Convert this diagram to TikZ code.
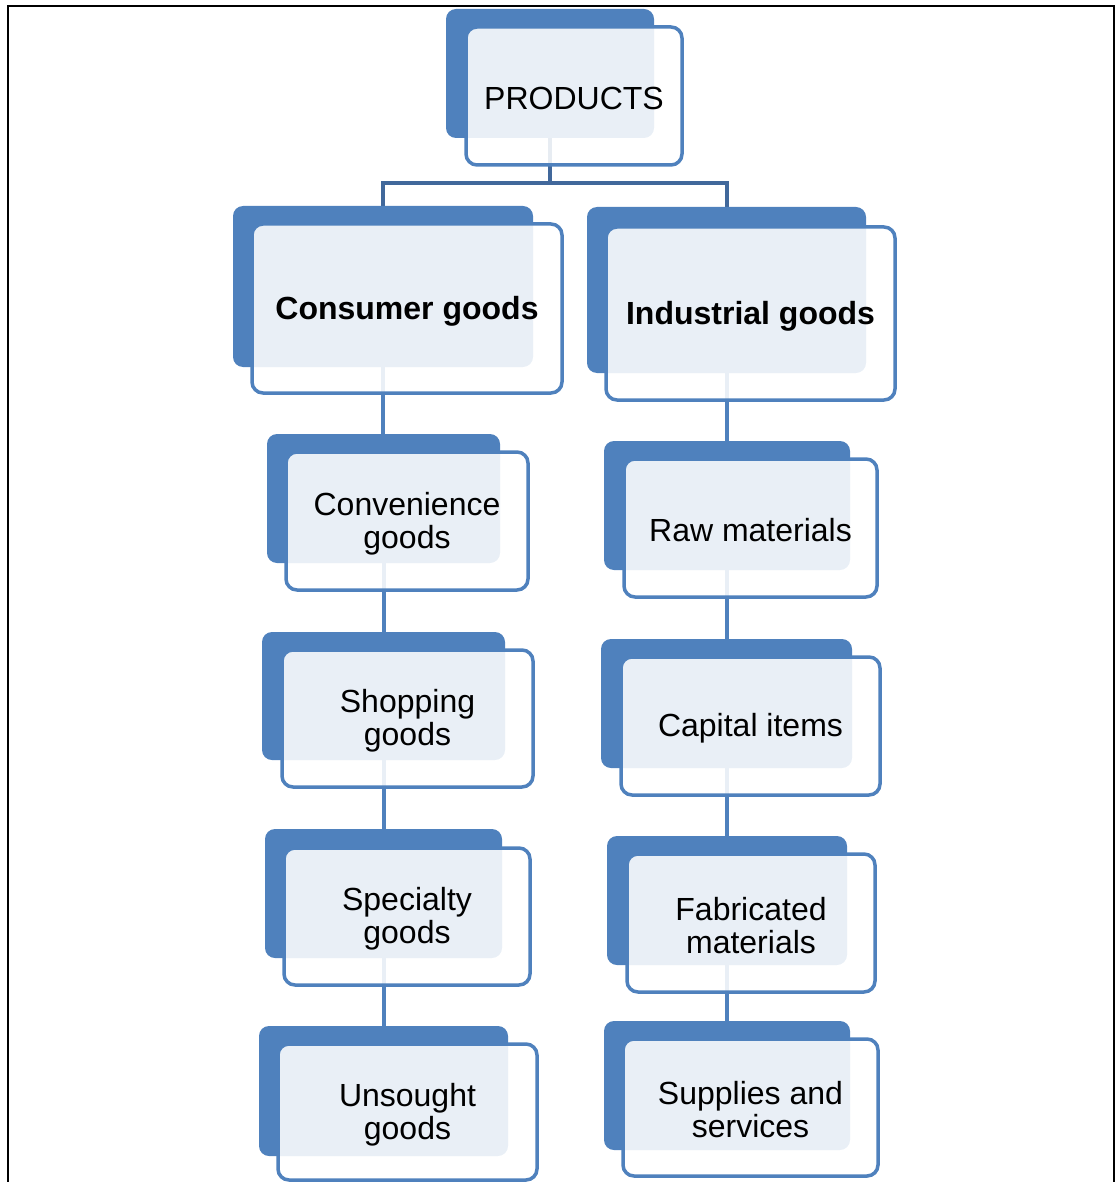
\documentclass[tikz,border=0pt]{standalone}
\usepackage{fontspec}
\setmainfont{Liberation Sans}
\definecolor{accent}{HTML}{4F81BD}
\definecolor{darkacc}{HTML}{41689B}
\pgfdeclarelayer{bg}
\pgfsetlayers{bg,main}
\tikzset{
  backbox/.style={fill=accent, draw=none, rounded corners=10pt, inner sep=0pt},
  frontbox/.style={draw=accent, line width=3.5pt, fill=white, fill opacity=0.88,
     rounded corners=11pt, inner sep=0pt},
  boxtext/.style={inner sep=0pt, align=center, font=\fontsize{32}{33}\selectfont},
  conn/.style={draw=accent, line width=4pt},
  topconn/.style={draw=darkacc, line width=4pt},
  frame/.style={draw=black, line width=1.8pt}
}
% #1 name, #2-#5 back corners, #6-#9 front corners, then text in braces
\newcommand\twobox[9]{%
  \node[backbox, minimum width={(#4-#2)*1pt}, minimum height={(#5-#3)*1pt}] (#1b) at ({(#2+#4)/2},{(#3+#5)/2}) {};%
  \node[frontbox, minimum width={(#8-#6)*1pt}, minimum height={(#9-#7)*1pt}] (#1) at ({(#6+#8)/2},{(#7+#9)/2}) {};%
  \node[boxtext, yshift=-2.5pt] (#1t) at (#1.center)}
\begin{document}
\begin{tikzpicture}[x=1pt,y=-1pt]
\useasboundingbox (0,0) rectangle (1116,1182);
\draw[frame] (8,1190) -- (8,6) -- (1114,6) -- (1114,1190);
% boxes
\twobox{prod}{446}{9}{654}{138}{466}{27}{682}{165}{PRODUCTS};
\twobox{cons}{233}{206}{533}{367}{252}{224}{562}{393}{\bfseries Consumer goods};
\twobox{ind}{587}{207}{866}{373}{606}{227}{895}{400}{\bfseries Industrial goods};
\twobox{conv}{267}{434}{500}{563}{286}{452}{528}{590}{Convenience\\goods};
\twobox{shop}{262}{632}{505}{760}{282}{650}{533}{787}{Shopping\\goods};
\twobox{spec}{265}{829}{502}{958}{284}{848}{530}{985}{Specialty\\goods};
\twobox{uns}{259}{1026}{508}{1156}{278}{1044}{537}{1180}{Unsought\\goods};
\twobox{raw}{604}{441}{850}{570}{624}{459}{877}{597}{Raw materials};
\twobox{cap}{601}{639}{852}{768}{621}{657}{880}{795}{Capital items};
\twobox{fab}{607}{836}{847}{965}{627}{854}{875}{992}{Fabricated\\materials};
\twobox{sup}{604}{1021}{850}{1150}{623}{1039}{878}{1176}{Supplies and\\services};
% connectors, under the boxes
\begin{pgfonlayer}{bg}
\coordinate (bus) at (550,183);
\draw[topconn] (prodb.south) -- (bus) -| (consb.north);
\draw[topconn] (bus) -| (indb.north);
\draw[conn] (consb.south) -- (consb.south |- convb.north);
\draw[conn] (convb.south) -- (convb.south |- shopb.north);
\draw[conn] (shopb.south) -- (shopb.south |- specb.north);
\draw[conn] (specb.south) -- (specb.south |- unsb.north);
\draw[conn] (indb.south) -- (indb.south |- rawb.north);
\draw[conn] (rawb.south) -- (rawb.south |- capb.north);
\draw[conn] (capb.south) -- (capb.south |- fabb.north);
\draw[conn] (fabb.south) -- (fabb.south |- supb.north);
\end{pgfonlayer}
\end{tikzpicture}
\end{document}
